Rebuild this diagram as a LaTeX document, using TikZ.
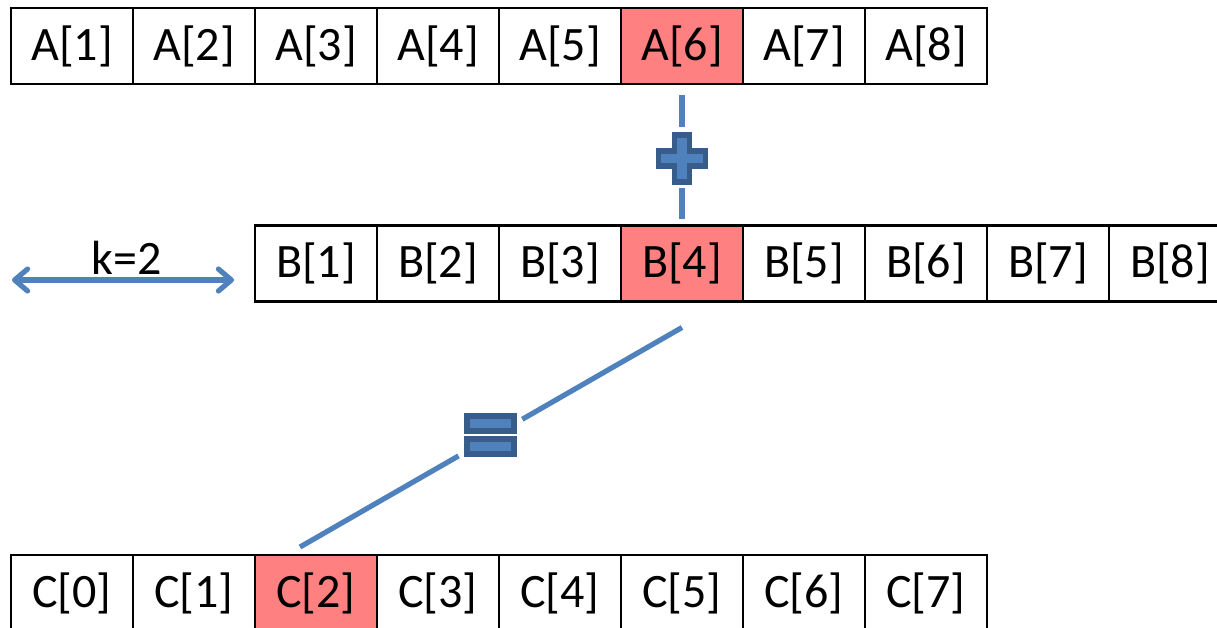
\documentclass[tikz,border=0pt]{standalone}
\usepackage{fontspec}
\setmainfont{Carlito}
\usetikzlibrary{calc,arrows.meta}
\definecolor{hl}{RGB}{255,128,128}
\definecolor{conn}{RGB}{79,129,189}
\definecolor{symedge}{RGB}{56,93,138}
\begin{document}
\begin{tikzpicture}[x=1pt,y=-1pt,
  cell/.style={draw=black,line width=2.8pt,minimum width=122pt,minimum height=76pt,
    inner sep=0pt,outer sep=0pt,anchor=north west,font=\fontsize{48}{56}\selectfont},
  hot/.style={fill=hl},
  link/.style={draw=conn,line width=5.2pt},
  sym/.style={fill=conn,draw=symedge,line width=5.5pt,line join=miter},
  barb/.tip={Straight Barb[length=13pt,width=22pt,round]}]
\clip (0,0) rectangle (1217,628);

% array A
\foreach \i in {1,...,8}{
  \node[cell] (a\i) at ({11+122*(\i-1)},8) {A[\i]};
}
% array B
\foreach \i in {1,...,8}{
  \node[cell] (b\i) at ({255+122*(\i-1)},225.5) {B[\i]};
}
% array C
\foreach \i in {0,...,7}{
  \node[cell] (c\i) at ({11+122*\i},555) {C[\i]};
}
% highlighted cells
\node[cell,hot] at (a6.north west) {A[6]};
\node[cell,hot] at (b4.north west) {B[4]};
\node[cell,hot] at (c2.north west) {C[2]};

% plus sign between A[6] and B[4]
\node[minimum size=53pt,inner sep=0pt,outer sep=0pt] (plus) at ([yshift=-74.5pt]a6.south) {};
\draw[link] ([yshift=-11pt]a6.south) -- ([yshift=5pt]plus.north);
\draw[link] ([yshift=-3pt]plus.south) -- ([yshift=6.5pt]b4.north);
\draw[sym,shift={(plus.center)}] (-7.5,-23.5) -- ++(15,0) -- ++(0,16) -- ++(16,0)
  -- ++(0,15) -- ++(-16,0) -- ++(0,16) -- ++(-15,0) -- ++(0,-16) -- ++(-16,0)
  -- ++(0,-15) -- ++(16,0) -- cycle;

% equals sign between B[4] and C[2]
\node[minimum width=53pt,minimum height=44pt,inner sep=0pt,outer sep=0pt] (eq) at (490.5,435) {};
\coordinate (dtop) at ([yshift=-26pt]b4.south);
\coordinate (dbot) at ([xshift=-16pt,yshift=8pt]c2.north);
\draw[link] (dtop) -- ($(dtop)!0.418!(dbot)$);
\draw[link] ($(dtop)!0.585!(dbot)$) -- (dbot);
\draw[sym,shift={(eq.center)}] (-23.7,-19.2) rectangle (23.7,-3.8)
  (-23.7,3.8) rectangle (23.7,19.2);

% shift marker
\coordinate (kl) at (12,280);
\coordinate (kr) at (234,280);
\draw[link,barb-barb] (kl) -- (kr);
\node[font=\fontsize{48}{56}\selectfont,anchor=base,inner sep=0pt] (klabel) at (127,274) {k=2};
\end{tikzpicture}
\end{document}
